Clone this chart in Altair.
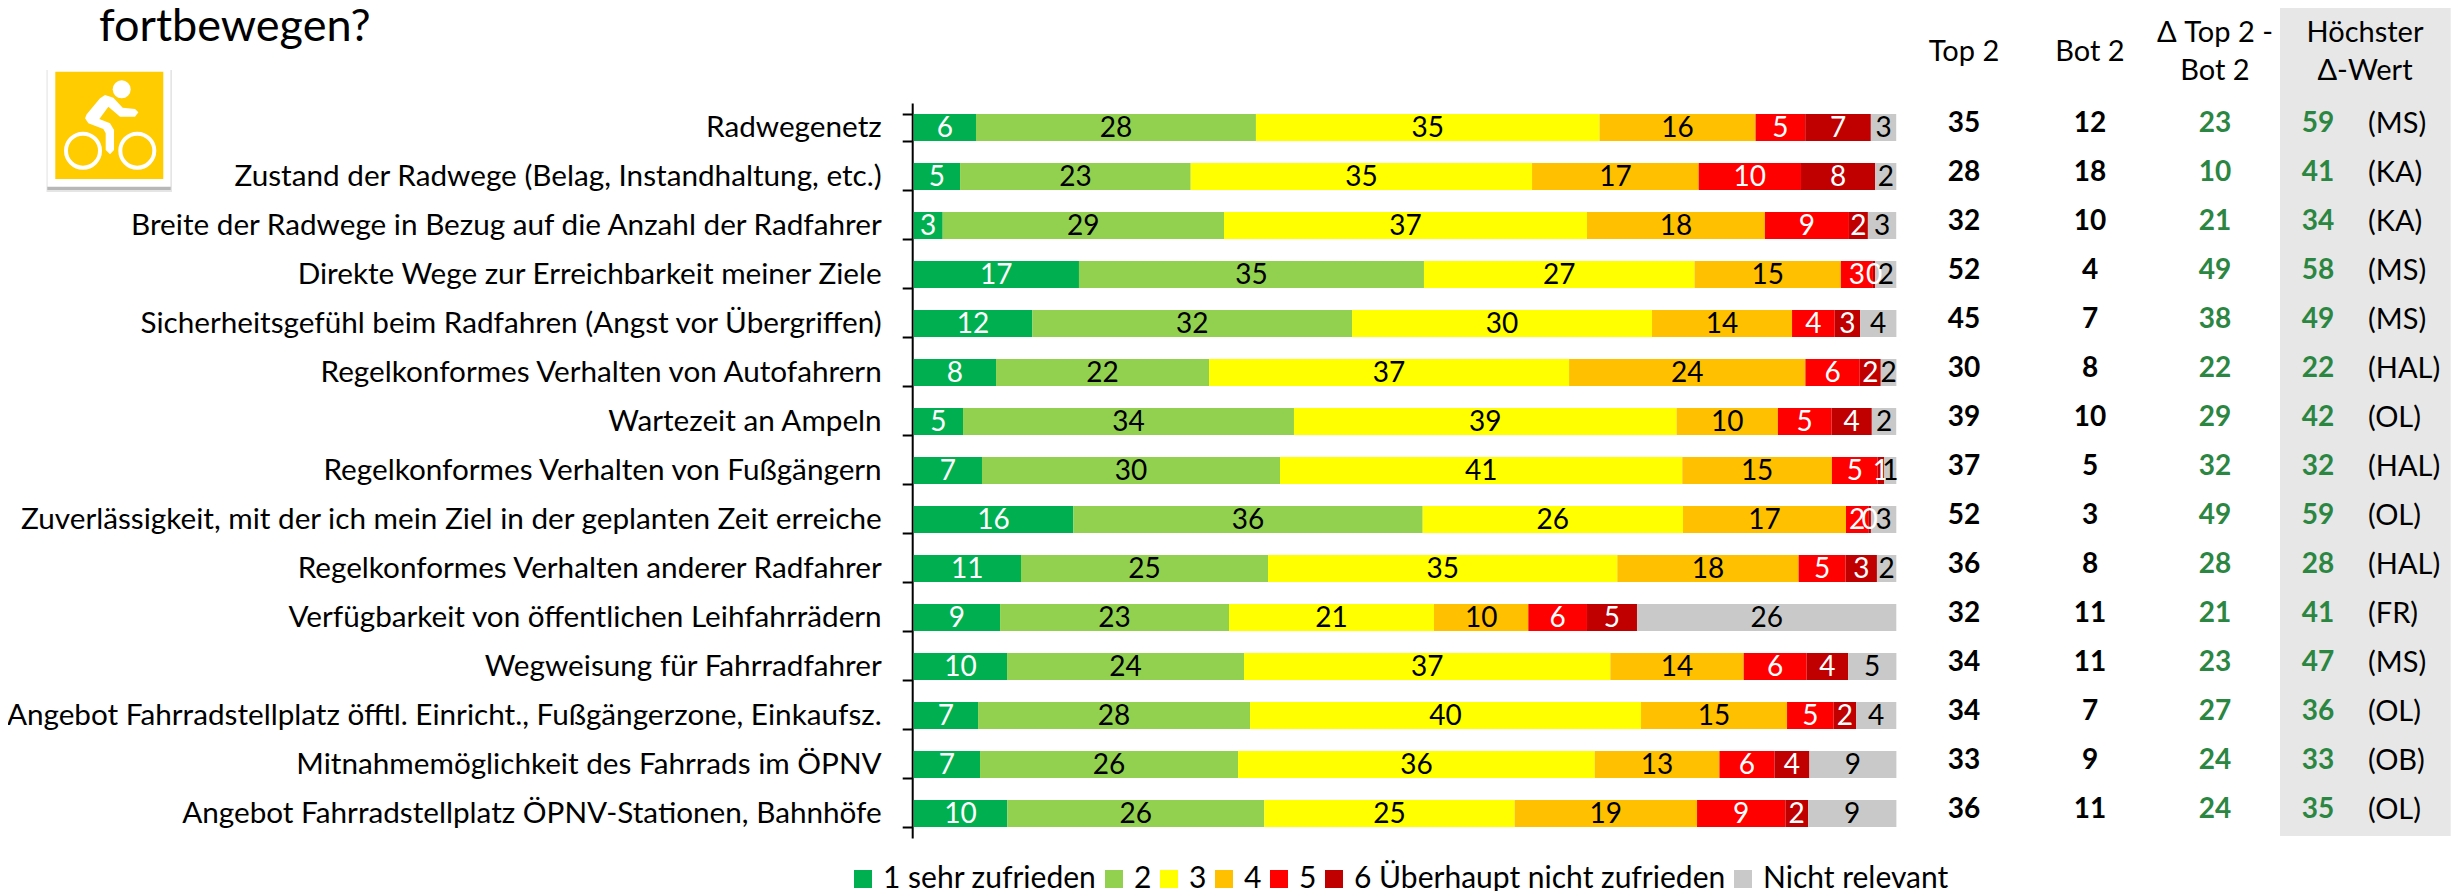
import altair as alt
import pandas as pd

FONT = "Lato"
TXT = 30
AXIS_TXT = 29.7
NUM = 28
HEAD = 29

categories = [
    "Radwegenetz",
    "Zustand der Radwege (Belag, Instandhaltung, etc.)",
    "Breite der Radwege in Bezug auf die Anzahl der Radfahrer",
    "Direkte Wege zur Erreichbarkeit meiner Ziele",
    "Sicherheitsgefühl beim Radfahren (Angst vor Übergriffen)",
    "Regelkonformes Verhalten von Autofahrern",
    "Wartezeit an Ampeln",
    "Regelkonformes Verhalten von Fußgängern",
    "Zuverlässigkeit, mit der ich mein Ziel in der geplanten Zeit erreiche",
    "Regelkonformes Verhalten anderer Radfahrer",
    "Verfügbarkeit von öffentlichen Leihfahrrädern",
    "Wegweisung für Fahrradfahrer",
    "Angebot Fahrradstellplatz öfftl. Einricht., Fußgängerzone, Einkaufsz.",
    "Mitnahmemöglichkeit des Fahrrads im ÖPNV",
    "Angebot Fahrradstellplatz ÖPNV-Stationen, Bahnhöfe",
]
series = ["1 sehr zufrieden", "2", "3", "4", "5", "6 Überhaupt nicht zufrieden", "Nicht relevant"]
colors = ["#00B050", "#92D050", "#FFFF00", "#FFC000", "#FF0000", "#C00000", "#C9C9C9"]
white_text = ["1 sehr zufrieden", "5", "6 Überhaupt nicht zufrieden"]

# segment lengths, in percent
share1 = [6.34, 4.72, 2.95, 16.82, 12.08, 8.38, 5.02, 6.95, 16.25, 10.92, 8.79, 9.50, 6.55, 6.75, 9.53]
share2 = [28.49, 23.47, 28.63, 35.11, 32.53, 21.68, 33.68, 30.33, 35.55, 25.14, 23.30, 24.12, 27.68, 26.26, 26.15]
share3 = [34.97, 34.74, 36.94, 27.54, 30.53, 36.64, 38.94, 40.94, 26.49, 35.55, 20.86, 37.28, 39.79, 36.30, 25.48]
share4 = [15.88, 16.96, 18.11, 14.89, 14.25, 24.05, 10.31, 15.23, 16.59, 18.45, 9.60, 13.57, 14.86, 12.69, 18.56]
share5 = [5.05, 10.41, 8.55, 3.26, 4.34, 5.53, 5.46, 4.65, 2.27, 4.78, 5.97, 6.41, 4.75, 5.60, 8.99]
share6 = [6.68, 7.56, 1.93, 0.24, 2.58, 2.14, 4.10, 0.68, 0.27, 3.19, 5.09, 4.21, 2.27, 3.56, 2.31]
share7 = [2.58, 2.14, 2.88, 2.14, 3.70, 1.59, 2.48, 1.22, 2.58, 1.97, 26.39, 4.92, 4.10, 8.85, 8.99]
shares = [share1, share2, share3, share4, share5, share6, share7]

# printed data labels
label1 = [6, 5, 3, 17, 12, 8, 5, 7, 16, 11, 9, 10, 7, 7, 10]
label2 = [28, 23, 29, 35, 32, 22, 34, 30, 36, 25, 23, 24, 28, 26, 26]
label3 = [35, 35, 37, 27, 30, 37, 39, 41, 26, 35, 21, 37, 40, 36, 25]
label4 = [16, 17, 18, 15, 14, 24, 10, 15, 17, 18, 10, 14, 15, 13, 19]
label5 = [5, 10, 9, 3, 4, 6, 5, 5, 2, 5, 6, 6, 5, 6, 9]
label6 = [7, 8, 2, 0, 3, 2, 4, 1, 0, 3, 5, 4, 2, 4, 2]
label7 = [3, 2, 3, 2, 4, 2, 2, 1, 3, 2, 26, 5, 4, 9, 9]
labels = [label1, label2, label3, label4, label5, label6, label7]

top2 = [35, 28, 32, 52, 45, 30, 39, 37, 52, 36, 32, 34, 34, 33, 36]
bot2 = [12, 18, 10, 4, 7, 8, 10, 5, 3, 8, 11, 11, 7, 9, 11]
delta = [23, 10, 21, 49, 38, 22, 29, 32, 49, 28, 21, 23, 27, 24, 24]
best = [59, 41, 34, 58, 49, 22, 42, 32, 59, 28, 41, 47, 36, 33, 35]
best_city = ["(MS)", "(KA)", "(KA)", "(MS)", "(MS)", "(HAL)", "(OL)", "(HAL)", "(OL)", "(HAL)", "(FR)", "(MS)", "(OL)", "(OB)", "(OL)"]

# layout, in page pixels
PLOT_L, PLOT_T, PLOT_W, PLOT_H = 913.7, 103.0, 982.6, 735.0
TOTAL_W, TOTAL_H = 2445, 883
PAGE = 8


def px(v):
    return v - PLOT_L


def py(v):
    return v - PLOT_T


rows = []
for ci, cat in enumerate(categories):
    pos = 0.0
    for si, name in enumerate(series):
        w = shares[si][ci]
        rows.append(dict(cat=cat, series=name, order=si, start=pos, end=pos + w,
                         mid=pos + w / 2, label=labels[si][ci]))
        pos += w
long_df = pd.DataFrame(rows)
table = pd.DataFrame(dict(cat=categories, top2=top2, bot2=bot2, delta=delta, best=best, city=best_city))
one = pd.DataFrame({"a": [0]})

y_enc = alt.Y(
    "cat:N",
    sort=categories,
    title=None,
    scale=alt.Scale(domain=categories, paddingInner=22 / 49, paddingOuter=11 / 49),
    axis=alt.Axis(
        tickBand="extent", domainColor="black", domainWidth=2, tickColor="black", tickWidth=2,
        tickSize=10, labelPadding=21, labelLimit=1200, labelFontSize=AXIS_TXT, labelFont=FONT,
        labelColor="black", offset=1.5, grid=False,
    ),
)
x_scale = alt.Scale(domain=[0, 100], nice=False, zero=False)


def rect(x0, x1, y0, y1, fill, opacity=1.0):
    return alt.Chart(one).mark_rect(fill=fill, opacity=opacity).encode(
        x=alt.value(px(x0)), x2=alt.value(px(x1)), y=alt.value(py(y0)), y2=alt.value(py(y1))
    )


def head(text, xc, yc, size=HEAD, align="center"):
    return alt.Chart(pd.DataFrame({"t": [text]})).mark_text(
        font=FONT, fontSize=size, align=align, baseline="middle", color="black"
    ).encode(text="t:N", x=alt.value(px(xc)), y=alt.value(py(yc)))


def column(field, xc, color="black", weight="bold", align="center", size=NUM):
    return alt.Chart(table).mark_text(
        font=FONT, fontSize=size, fontWeight=weight, align=align, baseline="middle", color=color, dy=-3.5
    ).encode(y=y_enc, x=alt.value(px(xc)), text=f"{field}:N")


gray_box = rect(2280, 2450.7, 8, 836, "#E7E7E7")

bars = alt.Chart(long_df).mark_bar().encode(
    y=y_enc,
    x=alt.X("start:Q", scale=x_scale, axis=None, title=None),
    x2="end:Q",
    color=alt.Color(
        "series:N",
        scale=alt.Scale(domain=series, range=colors),
        legend=alt.Legend(
            title=None, orient="none", legendX=px(848), legendY=py(864), direction="horizontal",
            columns=7, symbolType="square", symbolSize=324, symbolStrokeWidth=0, labelFont=FONT,
            labelFontSize=TXT, labelColor="black", labelOffset=5, columnPadding=2, labelLimit=600,
        ),
    ),
    order="order:Q",
)


def seg_text(col):
    return alt.Chart(long_df).transform_filter(
        alt.FieldOneOfPredicate(field="series", oneOf=white_text)
        if col == "white"
        else alt.LogicalNotPredicate(**{"not": alt.FieldOneOfPredicate(field="series", oneOf=white_text)})
    ).mark_text(font=FONT, fontSize=NUM, color=col, align="center", baseline="middle", dy=1.5).encode(
        y=y_enc, x=alt.X("mid:Q", scale=x_scale, axis=None, title=None), text="label:N"
    )


# icon
BODY = ("M-0.20 -0.90 L0.05 -0.82 L0.33 -0.52 L0.70 -0.48 L0.80 -0.38 L0.70 -0.25 L0.25 -0.25 L-0.10 -0.55 "
        "L-0.37 -0.18 L-0.05 -0.05 L0.07 0.15 L0.07 0.75 L-0.05 0.88 L-0.18 0.75 L-0.18 0.25 L-0.25 0.12 "
        "L-0.70 -0.05 L-0.80 -0.20 L-0.75 -0.32 L-0.35 -0.80 Z")


def circle(xc, yc, diam, filled):
    kw = dict(filled=True, fill="white") if filled else dict(filled=False, stroke="white", strokeWidth=4)
    return alt.Chart(one).mark_point(shape="circle", size=diam ** 2, opacity=1, **kw).encode(
        x=alt.value(px(xc)), y=alt.value(py(yc))
    )


icon = [
    rect(46.5, 172, 70, 192, "#7F7F7F", 0.2),
    rect(47.3, 170.7, 70, 190, "#7F7F7F", 0.45),
    rect(47.3, 170.7, 64, 186.7, "white"),
    rect(55.3, 163.3, 71.7, 179, "#FFCC00"),
    circle(121.7, 89.3, 18, True),
    circle(83, 150.7, 34, False),
    circle(137.3, 150.7, 34, False),
    alt.Chart(one).mark_point(shape=BODY, size=66.67 ** 2, filled=True, fill="white", opacity=1).encode(
        x=alt.value(px(111.7)), y=alt.value(py(125))
    ),
]

title_txt = alt.Chart(pd.DataFrame({"t": ["fortbewegen?"]})).mark_text(
    font=FONT, fontSize=45, align="left", baseline="alphabetic", color="black"
).encode(text="t:N", x=alt.value(px(99)), y=alt.value(py(41)))

GREEN = "#2B8642"
layers = (
    [bars, gray_box, title_txt] + icon +
    [seg_text("white"), seg_text("black"),
     head("Top 2", 1964, 52), head("Bot 2", 2090, 52),
     head("Δ Top 2 -", 2215, 33), head("Bot 2", 2215, 71),
     head("Höchster", 2365, 33), head("Δ-Wert", 2365, 71),
     column("top2", 1964), column("bot2", 2090),
     column("delta", 2215, color=GREEN), column("best", 2318, color=GREEN),
     column("city", 2368, weight="normal", align="left", size=HEAD)]
)

chart = alt.layer(*layers).properties(
    width=PLOT_W, height=PLOT_H,
    padding={"left": PLOT_L - PAGE, "top": PLOT_T - PAGE,
             "right": TOTAL_W - (PLOT_L - PAGE) - PLOT_W, "bottom": TOTAL_H - (PLOT_T - PAGE) - PLOT_H},
    autosize=alt.AutoSizeParams(type="none"),
    background="white",
).configure_view(strokeWidth=0)

chart.save("out.html", embed_options={"renderer": "svg", "actions": False})
